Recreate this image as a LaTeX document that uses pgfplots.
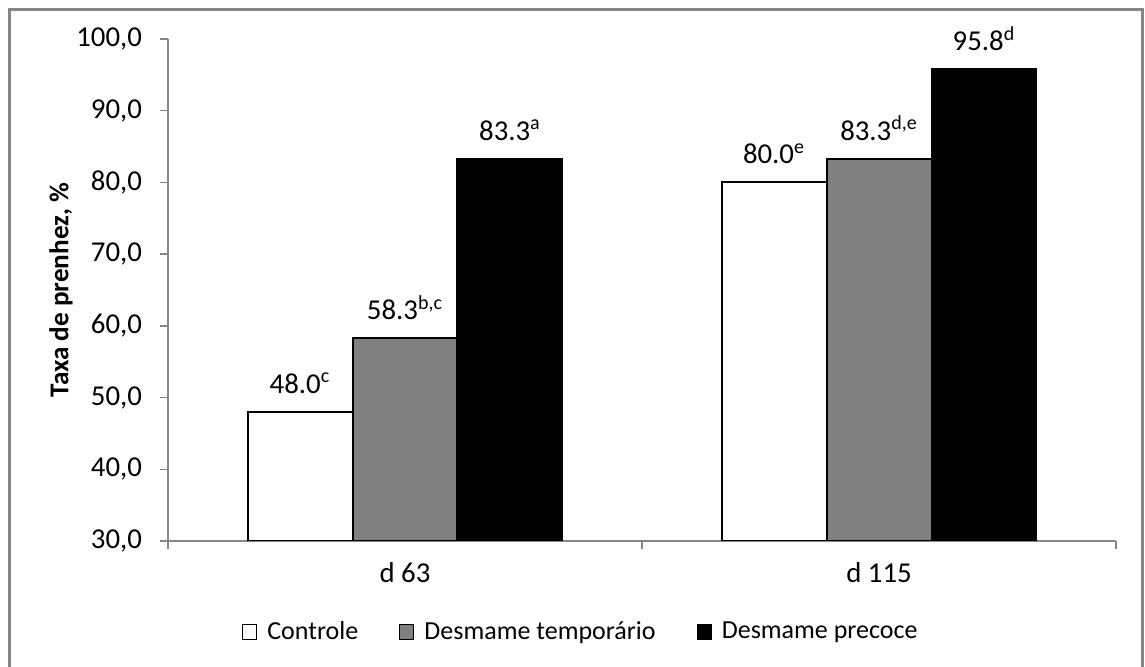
\documentclass[border=0pt]{standalone}
\usepackage{fontspec}
\setmainfont{Carlito}
\usepackage{pgfplots}
\pgfplotsset{compat=1.18}
\usepackage{pgfplotstable}

\definecolor{axisgray}{RGB}{134,134,134}
\definecolor{bargray}{RGB}{128,128,128}

% pregnancy rate (%) at each check, with significance letters
\pgfplotstableread{
x y sup
0 48.0 c
1 80.0 e
}\controle
\pgfplotstableread{
x y sup
0 58.3 b,c
1 83.3 d,e
}\temporario
\pgfplotstableread{
x y sup
0 83.3 a
1 95.8 d
}\precoce

\newcommand\numfont{\fontsize{14.4}{17}\selectfont}

\begin{document}
\fontsize{13}{15.6}\selectfont
\begin{tikzpicture}
\begin{axis}[
  at={(0pt,0pt)}, anchor=south west,
  scale only axis, width=474pt, height=251pt,
  xmin=-0.5, xmax=1.5, ymin=30, ymax=100,
  ytick={30,40,...,100},
  xtick={-0.5,0.5,1.5}, xticklabels={},
  extra x ticks={0,1}, extra x tick labels={d 63,d 115},
  extra x tick style={major tick length=0pt,
    xticklabel style={anchor=base, yshift=-21pt, font=\numfont}},
  axis lines*=left,
  axis line style={axisgray, line width=0.75pt},
  tick align=outside,
  major tick length=4pt,
  tick style={axisgray, line width=0.75pt},
  /pgf/number format/assume math mode=true,
  yticklabel style={anchor=east, xshift=-4.5pt, font=\numfont,
    /pgf/number format/.cd, fixed, fixed zerofill, precision=1, use comma},
  every axis y label/.style={at={(axis description cs:-0.11287,0.5)}, rotate=90, anchor=center,
    font=\fontsize{13.6}{16}\selectfont\bfseries},
  ylabel={Taxa de prenhez, \%},
  ybar, bar width=0.2215,
  point meta=explicit symbolic,
  visualization depends on={y \as \yval},
  nodes near coords={\pgfmathprintnumber[fixed, fixed zerofill, precision=1]{\yval}\textsuperscript{\pgfplotspointmeta}},
  every node near coord/.append style={anchor=base, yshift=9.25pt, text=black, font=\numfont},
  legend columns=3,
  legend style={at={(0.4365,-0.1813)}, anchor=center, draw=none, fill=none,
    /tikz/every odd column/.style={column sep=3pt},
    /tikz/every even column/.style={column sep=18.5pt}},
  legend image code/.code={\draw[#1, draw=black, line width=0.6pt] (0pt,-3.6pt) rectangle (7pt,3.6pt);},
]
\addplot[fill=white, draw=black, line width=1pt, bar shift=-0.2215] table[x=x, y=y, meta=sup] {\controle};
\addplot[fill=bargray, draw=black, line width=1pt, bar shift=0] table[x=x, y=y, meta=sup] {\temporario};
\addplot[fill=black, draw=black, line width=1pt, bar shift=0.2215] table[x=x, y=y, meta=sup] {\precoce};
\legend{Controle, Desmame temporário, Desmame precoce}
\end{axis}
% chart-area border (open at the bottom)
\draw[axisgray, line width=1.25pt] (-79.25pt,-70pt) -- (-79.25pt,265.75pt) -- (487.25pt,265.75pt) -- (487.25pt,-70pt);
\pgfresetboundingbox
\path[use as bounding box] (-84pt,-63pt) rectangle (488.5pt,270.5pt);
\end{tikzpicture}
\end{document}
